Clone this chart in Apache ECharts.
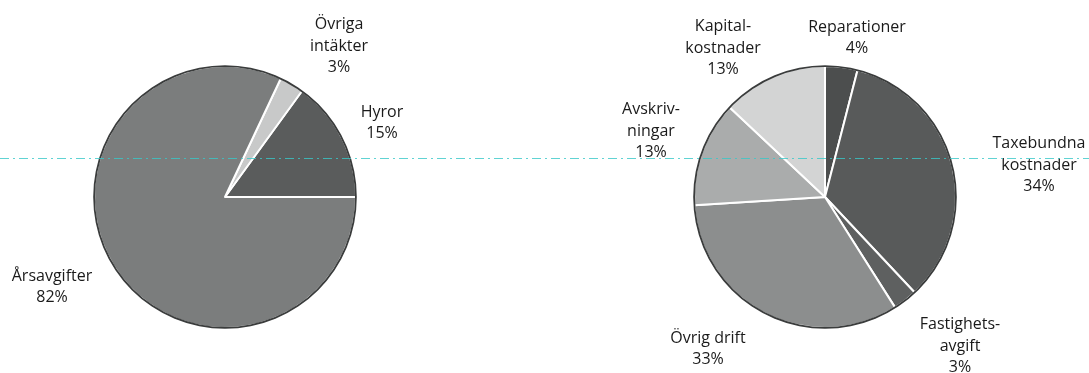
<!DOCTYPE html>
<html>
<head>
<meta charset="utf-8">
<script src="https://cdn.jsdelivr.net/npm/echarts@6/dist/echarts.min.js"></script>
<style>
html,body{margin:0;padding:0;background:#fff;}
#chart{width:1089px;height:373px;}
</style>
</head>
<body>
<div id="chart"></div>
<script>
// Data
const incomeNames = ['Hyror', 'Övriga\nintäkter', 'Årsavgifter'];
const incomeValues = [15, 3, 82];
const costNames = ['Reparationer', 'Taxebundna\nkostnader', 'Fastighets-\navgift', 'Övrig drift', 'Avskriv-\nningar', 'Kapital-\nkostnader'];
const costValues = [4, 34, 3, 33, 13, 13];

// Styles
const incomeColors = ['#5a5c5c', '#c8c9c9', '#7b7d7d'];
const costColors = ['#4c4e4e', '#585a5a', '#5e6060', '#8c8e8e', '#aaacac', '#d3d4d4'];
const incomeLabelPos = [[382, 123], [339, 46], [52, 287]];
const costLabelPos = [[857, 38], [1039, 165], [960, 346], [708, 349], [651, 131], [723, 48]];

function build(names, values, colors) {
  return names.map((n, i) => ({ name: n, value: values[i], itemStyle: { color: colors[i] } }));
}

const R = 131;
const labelStyle = {
  show: true,
  position: 'outside',
  formatter: '{b}\n{c}%',
  fontFamily: 'Open Sans',
  fontSize: 16,
  lineHeight: 21.5,
  color: '#1a1a1a',
  align: 'center',
  overflow: 'none',
  width: 200
};

function pieSeries(center, data, startAngle, clockwise, pos) {
  return {
    type: 'pie',
    center: center,
    radius: [0, R],
    startAngle: startAngle,
    clockwise: clockwise,
    silent: true,
    animation: false,
    data: data,
    itemStyle: { borderColor: '#ffffff', borderWidth: 2 },
    label: labelStyle,
    labelLine: { show: false },
    labelLayout: function (p) {
      const xy = pos[p.dataIndex];
      return { x: xy[0], y: xy[1], align: 'center', verticalAlign: 'middle', hideOverlap: false, moveOverlap: false };
    }
  };
}

function ring(center) {
  return {
    type: 'pie',
    center: center,
    radius: [R - 1, R + 0.8],
    silent: true,
    animation: false,
    z: 3,
    label: { show: false },
    labelLine: { show: false },
    itemStyle: { color: '#3a3c3c', borderWidth: 0 },
    data: [{ value: 1, name: '' }]
  };
}

const chart = echarts.init(document.getElementById('chart'), null, { renderer: 'canvas' });
chart.setOption({
  backgroundColor: '#ffffff',
  animation: false,
  series: [
    pieSeries([225, 197], build(incomeNames, incomeValues, incomeColors), 0, false, incomeLabelPos),
    ring([225, 197]),
    pieSeries([825, 197], build(costNames, costValues, costColors), 90, true, costLabelPos),
    ring([825, 197])
  ],
  graphic: [{
    type: 'line',
    z: 100,
    silent: true,
    shape: { x1: 0, y1: 158.5, x2: 1089, y2: 158.5 },
    style: { stroke: '#38c8c8', lineWidth: 1, lineDash: [9, 4, 2, 4], opacity: 0.8 }
  }]
});
</script>
</body>
</html>
